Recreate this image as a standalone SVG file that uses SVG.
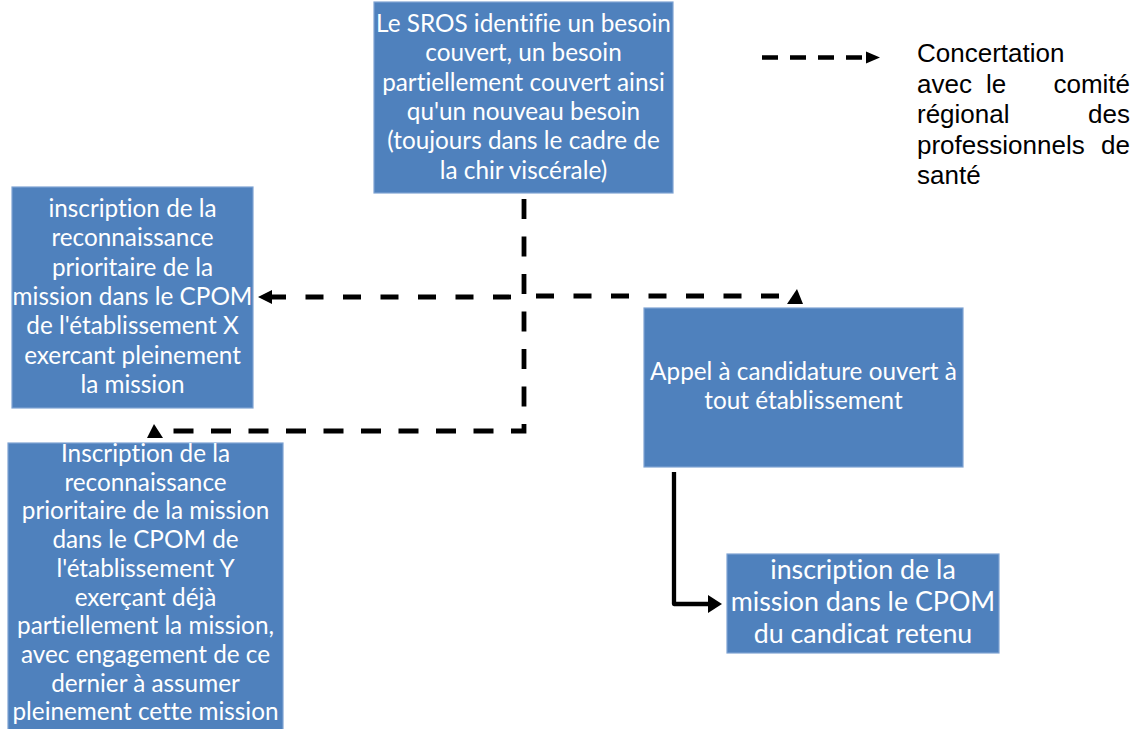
<svg xmlns="http://www.w3.org/2000/svg" width="1143" height="729" viewBox="0 0 1143 729">
<defs>
<style>
.box{fill:#4F81BD;stroke:#7FA3D3;stroke-width:1.2}
.t{font-family:Lato,"Open Sans",sans-serif;font-size:24.3px;fill:#FFFFFF;text-anchor:middle;font-variant-ligatures:none;font-feature-settings:"liga" 0,"dlig" 0}
.t2{font-family:Lato,"Open Sans",sans-serif;font-size:26.8px;fill:#FFFFFF;text-anchor:middle;font-variant-ligatures:none;font-feature-settings:"liga" 0,"dlig" 0}
.lg{font-family:"Liberation Sans",Arial,sans-serif;font-size:26px;fill:#000000}
.dash{fill:none;stroke:#000;stroke-width:4.8;stroke-dasharray:20 17.5}
.dashh{fill:none;stroke:#000;stroke-width:4.8;stroke-dasharray:18 19.5}
.solid{fill:none;stroke:#000;stroke-width:4.3;stroke-linejoin:round}
</style>
</defs>

<g id="node-sros">
<rect class="box" x="374" y="2" width="299" height="191"/>
<text class="t" x="523.5" y="32">Le SROS identifie un besoin</text>
<text class="t" x="523.5" y="61.3">couvert, un besoin</text>
<text class="t" x="523.5" y="90.6">partiellement couvert ainsi</text>
<text class="t" x="523.5" y="119.9">qu'un nouveau besoin</text>
<text class="t" x="523.5" y="149.2">(toujours dans le cadre de</text>
<text class="t" x="523.5" y="178.5">la chir viscérale)</text>
</g>

<g id="node-x">
<rect class="box" x="12" y="187" width="241" height="221"/>
<text class="t" x="132.5" y="217">inscription de la</text>
<text class="t" x="132.5" y="246.3">reconnaissance</text>
<text class="t" x="132.5" y="275.6">prioritaire de la</text>
<text class="t" x="132.5" y="304.9">mission dans le CPOM</text>
<text class="t" x="132.5" y="334.2">de l'établissement X</text>
<text class="t" x="132.5" y="363.5">exercant pleinement</text>
<text class="t" x="132.5" y="392.8">la mission</text>
</g>

<g id="node-y">
<rect class="box" x="8" y="443" width="275" height="295"/>
<text class="t" x="145.5" y="462">Inscription de la</text>
<text class="t" x="145.5" y="490.7">reconnaissance</text>
<text class="t" x="145.5" y="519.4">prioritaire de la mission</text>
<text class="t" x="145.5" y="548.1">dans le CPOM de</text>
<text class="t" x="145.5" y="576.8">l'établissement Y</text>
<text class="t" x="145.5" y="605.5">exerçant déjà</text>
<text class="t" x="145.5" y="634.2">partiellement la mission,</text>
<text class="t" x="145.5" y="662.9">avec engagement de ce</text>
<text class="t" x="145.5" y="691.6">dernier à assumer</text>
<text class="t" x="145.5" y="720.3">pleinement cette mission</text>
</g>

<g id="node-appel">
<rect class="box" x="644" y="308" width="319" height="159"/>
<text class="t" x="803.5" y="380">Appel à candidature ouvert à</text>
<text class="t" x="803.5" y="408.5">tout établissement</text>
</g>

<g id="node-candidat">
<rect class="box" x="727" y="554" width="272" height="99"/>
<text class="t2" x="863" y="579">inscription de la</text>
<text class="t2" x="863" y="611">mission dans le CPOM</text>
<text class="t2" x="863" y="643">du candicat retenu</text>
</g>

<g id="legend">
<line x1="762" y1="57.5" x2="866" y2="57.5" style="fill:none;stroke:#000;stroke-dasharray:16 12;stroke-width:4.5"/>
<polygon points="866,51.5 880,57.5 866,63.5" fill="#000"/>
<text class="lg" x="917" y="62">Concertation</text>
<text class="lg" x="917" y="92.5">avec</text>
<text class="lg" x="996" y="92.5" text-anchor="middle">le</text>
<text class="lg" x="1130" y="92.5" text-anchor="end">comité</text>
<text class="lg" x="917" y="123">régional</text>
<text class="lg" x="1130" y="123" text-anchor="end">des</text>
<text class="lg" x="917" y="153.5">professionnels</text>
<text class="lg" x="1130" y="153.5" text-anchor="end">de</text>
<text class="lg" x="917" y="184">santé</text>
</g>

<g id="connectors">
<path class="dash" d="M524,199 V431 H165"/>
<polygon points="147,438 163,438 154,424" fill="#000"/>
<path class="dashh" d="M511,297 H270"/>
<polygon points="272,290 258,297 272,304" fill="#000"/>
<path class="dashh" d="M536,296 H787"/>
<polygon points="787,304 803,304 797,289" fill="#000"/>
<path class="solid" d="M674,472 V604 H709"/>
<polygon points="708,595 722,604 708,613" fill="#000"/>
</g>
</svg>
